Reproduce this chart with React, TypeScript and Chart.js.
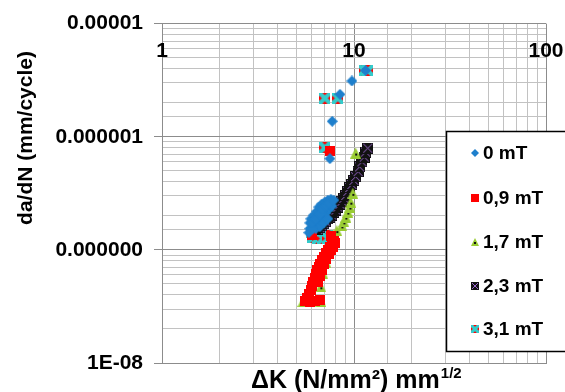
import { useEffect, useRef } from 'react';
import { Chart, registerables } from 'chart.js';

Chart.register(...registerables);

const FONT = '"Liberation Sans", Arial, Helvetica, sans-serif';

const seriesNames = ['0 mT', '0,9 mT', '1,7 mT', '2,3 mT', '3,1 mT'];

// 0 mT
const dK_0mT = [9.75, 8.45, 7.7, 7.49, 11.5, 5.89, 5.89, 5.96, 6.18, 6.41, 6.56, 6.8, 7.05, 7.31, 7.58, 6.18, 6.48, 6.8, 7.13, 7.4, 7.67, 6.33, 6.64, 6.97, 7.31, 5.82, 6.1, 6.03, 6.33, 6.64, 6.89, 7.13, 7.4, 7.85];
const dadN_0mT = [3.11e-6, 2.37e-6, 1.37e-6, 6.4e-7, 3.85e-6, 1.54e-7, 1.73e-7, 1.88e-7, 2.03e-7, 2.2e-7, 2.39e-7, 2.54e-7, 2.64e-7, 2.75e-7, 2.8e-7, 1.67e-7, 1.8e-7, 1.95e-7, 2.12e-7, 2.3e-7, 2.44e-7, 1.54e-7, 1.6e-7, 1.73e-7, 1.88e-7, 1.42e-7, 1.54e-7, 1.73e-7, 1.88e-7, 2.07e-7, 2.3e-7, 2.44e-7, 2.59e-7, 2.75e-7];

// 0,9 mT
const dK_09mT = [7.49, 5.55, 5.89, 6.25, 6.64, 5.68, 5.82, 5.96, 6.03, 6.1, 6.25, 6.33, 6.41, 6.56, 6.64, 6.8, 6.97, 7.13, 7.31, 7.49, 7.67, 7.85, 6.48, 6.64, 6.8, 6.97, 7.13, 7.4, 7.58, 7.76, 7.94, 6.03, 7.58];
const dadN_09mT = [7.5e-7, 3.5e-8, 3.43e-8, 3.5e-8, 3.64e-8, 3.79e-8, 4.1e-8, 4.44e-8, 4.81e-8, 5.22e-8, 5.65e-8, 6.12e-8, 6.64e-8, 7.05e-8, 7.48e-8, 8.11e-8, 8.6e-8, 9.33e-8, 9.9e-8, 1.05e-7, 1.12e-7, 1.19e-7, 5.22e-8, 5.89e-8, 6.64e-8, 7.48e-8, 8.26e-8, 9.14e-8, 9.9e-8, 1.07e-7, 1.16e-7, 1.36e-7, 1.33e-7];

// 1,7 mT
const dK_17mT = [5.42, 5.61, 6.72, 6.72, 6.89, 7.13, 7.31, 7.4, 7.58, 7.85, 8.14, 8.65, 8.86, 9.07, 9.29, 9.52, 9.63, 9.86, 10.2];
const dadN_17mT = [3.5e-8, 4.03e-8, 3.5e-8, 4.72e-8, 6.12e-8, 7.79e-8, 1.02e-7, 1.12e-7, 1.21e-7, 1.36e-7, 1.48e-7, 1.63e-7, 1.77e-7, 1.95e-7, 2.16e-7, 2.39e-7, 2.64e-7, 3.16e-7, 7.18e-7];

// 2,3 mT
const dK_23mT = [6.48, 6.64, 6.8, 6.97, 7.13, 7.31, 7.49, 7.67, 7.85, 8.05, 8.24, 8.45, 8.65, 8.86, 9.07, 9.29, 9.52, 9.75, 9.99, 10.2, 10.5, 10.7, 11.0, 11.3, 11.5, 11.8];
const dadN_23mT = [1.51e-7, 1.57e-7, 1.63e-7, 1.7e-7, 1.77e-7, 1.88e-7, 1.95e-7, 2.03e-7, 2.16e-7, 2.25e-7, 2.39e-7, 2.54e-7, 2.69e-7, 2.86e-7, 3.03e-7, 3.29e-7, 3.56e-7, 3.78e-7, 4.1e-7, 4.44e-7, 4.91e-7, 5.42e-7, 6.0e-7, 6.62e-7, 7.32e-7, 7.93e-7];

// 3,1 mT
const dK_31mT = [7.05, 8.24, 11.3, 11.8, 7.05, 6.03, 6.33, 6.64, 6.97, 7.31, 7.58, 6.1, 6.48, 6.89, 7.31];
const dadN_31mT = [2.19e-6, 2.19e-6, 3.85e-6, 3.85e-6, 8.0e-7, 1.42e-7, 1.39e-7, 1.36e-7, 1.34e-7, 1.34e-7, 1.31e-7, 1.28e-7, 1.26e-7, 1.26e-7, 1.26e-7];

const xTickValues = [1, 10, 100];
const xTickLabels = ['1', '10', '100'];
const yTickValues = [1e-5, 1e-6, 1e-7, 1e-8];
const yTickLabels = ['0.00001', '0.000001', '0.000000', '1E-08'];

const xTitle = 'ΔK (N/mm²) mm';
const xTitleSup = '1/2';
const yTitle = 'da/dN (mm/cycle)';

const markerKinds = ['diamond', 'square', 'triangle', 'xsquare', 'cxsquare'];
const dataMarkerSizes = [11, 10, 11, 11, 11];

function makeMarker(kind: string, s: number): HTMLCanvasElement {
  const c = document.createElement('canvas');
  c.width = s;
  c.height = s;
  const g = c.getContext('2d') as CanvasRenderingContext2D;
  const h = s / 2;
  if (kind === 'diamond') {
    g.fillStyle = '#1E7FCC';
    g.beginPath();
    g.moveTo(h, 0);
    g.lineTo(s, h);
    g.lineTo(h, s);
    g.lineTo(0, h);
    g.closePath();
    g.fill();
  } else if (kind === 'square') {
    g.fillStyle = '#FF0000';
    g.fillRect(0, 0, s, s);
  } else if (kind === 'triangle') {
    g.fillStyle = '#99CC33';
    g.beginPath();
    g.moveTo(h, 0);
    g.lineTo(s, s);
    g.lineTo(0, s);
    g.closePath();
    g.fill();
    g.fillStyle = '#111';
    g.fillRect(Math.round(h) - 1, Math.round(s * 0.6) - 1, 2, 2);
  } else if (kind === 'xsquare') {
    g.fillStyle = '#111111';
    g.fillRect(0, 0, s, s);
    g.strokeStyle = '#9966CC';
    g.lineWidth = 1;
    g.beginPath();
    g.moveTo(1, 1);
    g.lineTo(s - 1, s - 1);
    g.moveTo(s - 1, 1);
    g.lineTo(1, s - 1);
    g.stroke();
  } else {
    g.fillStyle = '#FF0000';
    g.fillRect(0, 0, s, s);
    g.strokeStyle = '#33CCCC';
    g.lineWidth = s * 0.38;
    g.beginPath();
    g.moveTo(0, 0);
    g.lineTo(s, s);
    g.moveTo(s, 0);
    g.lineTo(0, s);
    g.stroke();
  }
  return c;
}

const isMajorVal = (v: number) => Math.abs(Math.log10(v) - Math.round(Math.log10(v))) < 1e-6;
const MAJOR = '#8c8c8c';
const MINOR = '#c2c2c2';

export default function App() {
  const ref = useRef<HTMLCanvasElement | null>(null);

  useEffect(() => {
    document.body.style.margin = '0';
    const canvas = ref.current;
    if (!canvas) return;

    const xs = [dK_0mT, dK_09mT, dK_17mT, dK_23mT, dK_31mT];
    const ys = [dadN_0mT, dadN_09mT, dadN_17mT, dadN_23mT, dadN_31mT];
    const dataMarkers = markerKinds.map((k, i) => makeMarker(k, dataMarkerSizes[i]));
    const legendMarkers = markerKinds.map((k) => makeMarker(k, 8));

    const datasets = seriesNames.map((name, i) => ({
      label: name,
      data: xs[i].map((x, j) => ({ x, y: ys[i][j] })),
      pointStyle: dataMarkers[i] as any,
      pointRadius: 5,
      pointHoverRadius: 5,
      showLine: false,
    }));

    const decor = {
      id: 'decor',
      afterDraw(chart: any) {
        const ctx: CanvasRenderingContext2D = chart.ctx;
        const xs = chart.scales.x;
        ctx.save();
        ctx.fillStyle = '#000';
        ctx.font = `bold 21px ${FONT}`;
        ctx.textAlign = 'center';
        ctx.textBaseline = 'middle';
        xTickValues.forEach((v, i) => {
          ctx.fillText(xTickLabels[i], xs.getPixelForValue(v), 51);
        });
        ctx.save();
        ctx.translate(26, 138);
        ctx.rotate(-Math.PI / 2);
        ctx.font = `bold 21px ${FONT}`;
        ctx.textAlign = 'center';
        ctx.textBaseline = 'middle';
        ctx.fillText(yTitle, 0, 0);
        ctx.restore();
        ctx.font = `bold 25px ${FONT}`;
        ctx.textAlign = 'left';
        ctx.textBaseline = 'alphabetic';
        const tx = 251;
        const ty = 388;
        ctx.fillText(xTitle, tx, ty);
        const w = ctx.measureText(xTitle).width;
        ctx.font = `bold 15px ${FONT}`;
        ctx.fillText(xTitleSup, tx + w + 1, ty - 10);
        ctx.fillStyle = '#fff';
        ctx.fillRect(446.5, 131.5, 200, 220);
        ctx.strokeStyle = '#000';
        ctx.lineWidth = 1.5;
        ctx.strokeRect(446.5, 131.5, 200, 220);
        const rows = [153, 198, 242, 286, 329];
        ctx.font = `bold 19px ${FONT}`;
        ctx.textBaseline = 'middle';
        ctx.fillStyle = '#000';
        seriesNames.forEach((n, i) => {
          const m = legendMarkers[i];
          ctx.drawImage(m, 475 - m.width / 2, rows[i] - m.height / 2);
          ctx.fillText(n, 483, rows[i] + 1);
        });
        ctx.restore();
      },
    };

    const chart = new Chart(canvas, {
      type: 'scatter',
      data: { datasets: datasets as any },
      options: {
        animation: false,
        responsive: false,
        events: [],
        layout: { padding: { top: 17, right: 19, left: 0, bottom: 0 } },
        plugins: {
          legend: { display: false },
          tooltip: { enabled: false },
          title: { display: false },
        },
        scales: {
          x: {
            type: 'logarithmic',
            min: 1,
            max: 100,
            position: 'bottom',
            ticks: { display: false, autoSkip: false },
            grid: {
              drawTicks: false,
              color: (c: any) => (c.tick && isMajorVal(c.tick.value) ? MAJOR : MINOR),
              lineWidth: 1,
            },
            border: { display: true, color: MAJOR },
            afterFit: (s: any) => {
              s.height = 29;
            },
          },
          y: {
            type: 'logarithmic',
            min: 1e-8,
            max: 1e-5,
            position: 'left',
            ticks: {
              autoSkip: false,
              padding: 11,
              color: '#000',
              font: { family: FONT, size: 21, weight: 'bold' },
              callback: (v: any) => {
                const val = Number(v);
                if (!isMajorVal(val)) return '';
                const e = Math.round(Math.log10(val));
                const idx = yTickValues.findIndex((t) => Math.round(Math.log10(t)) === e);
                return idx >= 0 ? yTickLabels[idx] : '';
              },
            },
            grid: {
              drawTicks: true,
              tickLength: 8,
              color: (c: any) => (c.tick && isMajorVal(c.tick.value) ? MAJOR : MINOR),
              tickColor: (c: any) => (c.tick && isMajorVal(c.tick.value) ? MAJOR : 'rgba(0,0,0,0)'),
            },
            border: { display: true, color: MAJOR },
            afterFit: (s: any) => {
              s.width = 162;
            },
          },
        },
      },
      plugins: [decor],
    });

    return () => {
      chart.destroy();
    };
  }, []);

  return (
    <div style={{ width: 565, height: 392, position: 'relative', background: '#fff' }}>
      <canvas ref={ref} width={565} height={392} style={{ display: 'block' }} />
    </div>
  );
}
